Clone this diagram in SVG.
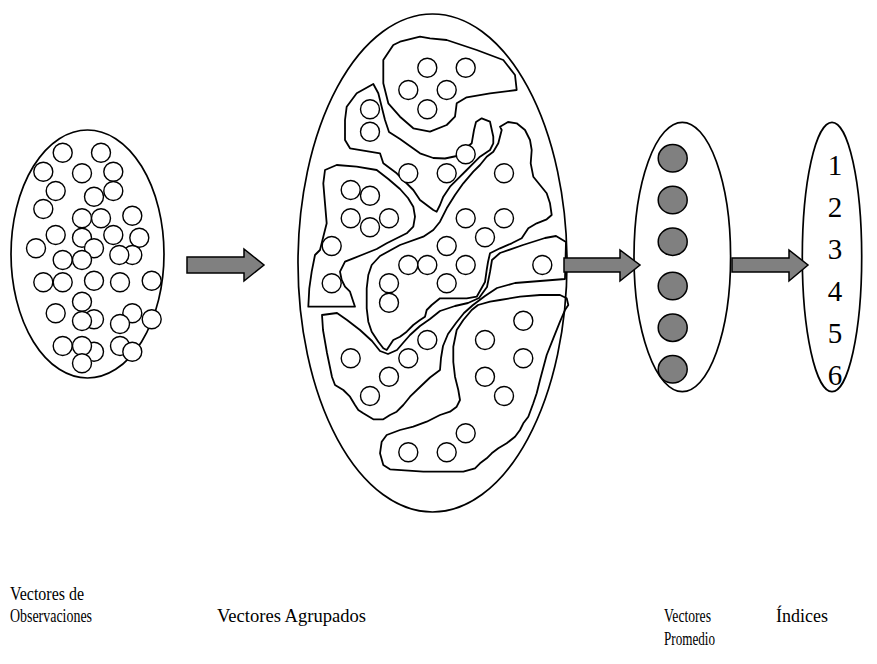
<svg xmlns="http://www.w3.org/2000/svg" width="877" height="664" viewBox="0 0 877 664">
<style>
.bg{fill:#fff}
.e{fill:#fff;stroke:#000;stroke-width:1.7}
.c{fill:#fff;stroke:#000;stroke-width:1.4}
.b{fill:none;stroke:#000;stroke-width:1.8;stroke-linejoin:round}
.g{fill:#808080;stroke:#000;stroke-width:1.5}
.ar{fill:#808080;stroke:#000;stroke-width:1.5;stroke-linejoin:miter}
.t{font-family:"Liberation Serif","Times New Roman",serif;font-size:19px;fill:#000}
.n{font-family:"Liberation Serif","Times New Roman",serif;font-size:29px;fill:#000;text-anchor:middle}
</style>
<rect class="bg" x="0" y="0" width="877" height="664"/>
<g id="observaciones">
<ellipse class="e" cx="87.5" cy="254" rx="76.5" ry="124"/>
<g>
<circle class="c" cx="62.7" cy="152.7" r="9.5"/><circle class="c" cx="101" cy="152.7" r="9.5"/>
<circle class="c" cx="43.3" cy="171.7" r="9.5"/><circle class="c" cx="82" cy="173.3" r="9.5"/>
<circle class="c" cx="113.3" cy="171.7" r="9.5"/><circle class="c" cx="55.7" cy="191" r="9.5"/>
<circle class="c" cx="94" cy="196.7" r="9.5"/><circle class="c" cx="113.3" cy="191" r="9.5"/>
<circle class="c" cx="43.3" cy="209" r="9.5"/><circle class="c" cx="82" cy="218.3" r="9.5"/>
<circle class="c" cx="101" cy="218.3" r="9.5"/><circle class="c" cx="132.3" cy="215.7" r="9.5"/>
<circle class="c" cx="55.7" cy="235" r="9.5"/><circle class="c" cx="82" cy="237.7" r="9.5"/>
<circle class="c" cx="113.3" cy="235" r="9.5"/><circle class="c" cx="139.3" cy="237.7" r="9.5"/>
<circle class="c" cx="36" cy="248.3" r="9.5"/><circle class="c" cx="94" cy="248.3" r="9.5"/>
<circle class="c" cx="62.7" cy="260" r="9.5"/><circle class="c" cx="82" cy="260" r="9.5"/>
<circle class="c" cx="132.3" cy="255" r="9.5"/><circle class="c" cx="119.3" cy="255" r="9.5"/>
<circle class="c" cx="43.3" cy="282.3" r="9.5"/><circle class="c" cx="62.7" cy="282.3" r="9.5"/>
<circle class="c" cx="94" cy="280.7" r="9.5"/><circle class="c" cx="120" cy="282.3" r="9.5"/>
<circle class="c" cx="151.7" cy="280.7" r="9.5"/><circle class="c" cx="82" cy="301.7" r="9.5"/>
<circle class="c" cx="55.7" cy="313.3" r="9.5"/><circle class="c" cx="94" cy="319.3" r="9.5"/>
<circle class="c" cx="82" cy="321" r="9.5"/><circle class="c" cx="132.3" cy="313.3" r="9.5"/>
<circle class="c" cx="120" cy="324" r="9.5"/><circle class="c" cx="151.7" cy="319.3" r="9.5"/>
<circle class="c" cx="94" cy="351.7" r="9.5"/><circle class="c" cx="62.7" cy="346" r="9.5"/>
<circle class="c" cx="82" cy="346" r="9.5"/><circle class="c" cx="120" cy="346" r="9.5"/>
<circle class="c" cx="132.3" cy="351.7" r="9.5"/><circle class="c" cx="82" cy="363.3" r="9.5"/>
</g>
<text class="t" x="10" y="600" textLength="74" lengthAdjust="spacingAndGlyphs">Vectores de</text>
<text class="t" x="10" y="622" textLength="82" lengthAdjust="spacingAndGlyphs">Observaciones</text>
</g>
<g id="agrupados">
<ellipse class="e" cx="432.5" cy="263" rx="134.5" ry="249"/>
<polygon class="b" points="393.3,45 400,41.7 420,36.7 430,38.3 446.7,40 476.7,50 503.3,60 515,75 516.7,90 490,93.3 466.7,97.3 456.7,103.3 455,116.7 446.7,125 430,131.7 413.3,128.3 400,116.7 388.3,103.3 383.3,83.3 383.3,60"/>
<polygon class="b" points="345,120 346.7,106.7 356.7,93.3 373.3,84 378.3,93.3 385,120 389,132 400,139 420,153.3 433.3,158 445,158.5 456.7,156 471.7,143.3 474,130 476,122 481.7,118.3 490,121.7 493.3,136.7 493.3,143.3 490,150 480,156.7 473.3,163.3 466.7,170 458.3,178.3 450,186.7 443.3,196.7 440,205 436.7,211.7 433.3,210 420,200 413.3,190 396.7,173.3 383.3,163.3 380,153.3 350,148.3 345,140"/>
<polygon class="b" points="325,170 336.7,165 356.7,166.7 376.7,170 388.3,179 400,189 408,198 413.3,206.7 415,216.7 413.3,226.7 406.7,233.3 396.7,238.3 386.7,243.3 376.7,249 361.7,255 353.3,258.3 345,261.7 340,271.7 341.7,280 345,286.7 350,291.7 353.3,301.7 355,306.7 308.3,306.7 309.3,288.3 311.7,271.7 315,255 320,250 323.3,236.7 326.7,223.3 325,203.3 323.3,183.3"/>
<polygon class="b" points="500,126.7 508,122 516.7,123.3 525,130 530,140 531.7,150 530.7,163.3 533.3,176.7 540,185 546.7,193.3 550,203.3 551.7,215 546.7,219.3 536.7,223.3 528.3,228.3 521.7,238.3 511.7,243.3 500,248.3 490,253.3 488,262 486.7,270 485,282 476.7,296.7 466.7,298.3 453.3,298.3 440,298.3 431.7,305 426.7,310 425,316.7 420,320 413.3,325 406.7,331.7 400,336.7 393.3,340 390,345 386.7,350 383.3,348.3 378.3,341.7 371.7,331.7 368.3,321.7 366.7,308.3 366.7,288.3 368.3,275 371.7,265 380,256 400,245 423.3,236.7 433.3,230 440,221.7 446.7,208.3 455,195 463.3,183.3 473.3,171.7 480,165 486.7,156.7 493.3,151.7 498.3,143.3 501.7,130"/>
<polygon class="b" points="322,315 337,313 347,320 360,330 372,341 380,351 388,354 397,350 403,343 410,335 420,326 430,319 440,311 455,306 468,303 479,298 487,287 490,272 492,260 500,253 523,245 545,238 556,236 566,242 565,279 540,281 515,283 497,288 485,296 473,305 464,313 456,323 448,334 443,346 441,358 440,370 430,377.5 420,387 410,396.7 403.3,405 396.7,411.7 390,415 383.3,419.3 373.3,419.3 363.3,413.3 358.3,410 355,405 350,396.7 343.3,390 335,385 332,377 327,353 323,330"/>
<polygon class="b" points="471.7,310 478,305 490,301.7 500,300 520,296.7 540,295 560,295 566.7,298.3 568.3,305 565,310 560,321.7 553.3,338.3 546.7,355 540,380 536.7,393.3 533.3,403.3 528.3,416.7 523.3,423.3 520,430 515,436.7 506.7,443.3 498.3,448.3 491.7,453.3 486.7,458.3 480,463.3 475,468.3 463.3,471.7 440,471.7 423.3,471.7 390,469.3 383.3,465 380,453.3 381.7,441.7 386.7,435 400,430 413.3,426.7 426.7,421.7 440,415 450,411.7 456.7,406.7 460,400 458.3,390 455,376.7 453.3,362 453.3,346.7 456.7,330 463.3,320"/>
<g>
<circle class="c" cx="427.3" cy="67.7" r="9.5"/><circle class="c" cx="465.7" cy="67.7" r="9.5"/>
<circle class="c" cx="408.3" cy="90" r="9.5"/><circle class="c" cx="446.7" cy="90" r="9.5"/>
<circle class="c" cx="427.3" cy="109.3" r="9.5"/>
<circle class="c" cx="370" cy="109.3" r="9.5"/><circle class="c" cx="370" cy="131.7" r="9.5"/>
<circle class="c" cx="408.3" cy="173.3" r="9.5"/><circle class="c" cx="446.7" cy="173.3" r="9.5"/>
<circle class="c" cx="465.7" cy="154.3" r="9.5"/>
<circle class="c" cx="504" cy="173.3" r="9.5"/><circle class="c" cx="465.7" cy="218.3" r="9.5"/>
<circle class="c" cx="504" cy="218.3" r="9.5"/><circle class="c" cx="485" cy="237.3" r="9.5"/>
<circle class="c" cx="446.7" cy="246" r="9.5"/><circle class="c" cx="408.3" cy="265" r="9.5"/>
<circle class="c" cx="427.3" cy="265" r="9.5"/><circle class="c" cx="465.7" cy="265" r="9.5"/>
<circle class="c" cx="389" cy="283.3" r="9.5"/><circle class="c" cx="446.7" cy="283.3" r="9.5"/>
<circle class="c" cx="389" cy="302.7" r="9.5"/>
<circle class="c" cx="350.7" cy="190" r="9.5"/><circle class="c" cx="370" cy="195.7" r="9.5"/>
<circle class="c" cx="350.7" cy="218.3" r="9.5"/><circle class="c" cx="370" cy="227.3" r="9.5"/>
<circle class="c" cx="389" cy="218.3" r="9.5"/><circle class="c" cx="331.7" cy="246" r="9.5"/>
<circle class="c" cx="331.7" cy="283.3" r="9.5"/>
<circle class="c" cx="542.3" cy="265" r="9.5"/><circle class="c" cx="427.3" cy="340" r="9.5"/>
<circle class="c" cx="350.7" cy="358.3" r="9.5"/><circle class="c" cx="408.3" cy="358.3" r="9.5"/>
<circle class="c" cx="389" cy="376.7" r="9.5"/><circle class="c" cx="370" cy="396" r="9.5"/>
<circle class="c" cx="523.3" cy="320.7" r="9.5"/><circle class="c" cx="485" cy="340" r="9.5"/>
<circle class="c" cx="523.3" cy="358.3" r="9.5"/><circle class="c" cx="485" cy="376.7" r="9.5"/>
<circle class="c" cx="504" cy="396" r="9.5"/><circle class="c" cx="465.7" cy="433.3" r="9.5"/>
<circle class="c" cx="408.3" cy="452.3" r="9.5"/><circle class="c" cx="446.7" cy="452.3" r="9.5"/>
</g>
<text class="t" x="217" y="622" textLength="149" lengthAdjust="spacingAndGlyphs">Vectores Agrupados</text>
</g>
<g id="promedio">
<ellipse class="e" cx="682.3" cy="257" rx="48.3" ry="134.7"/>
<ellipse class="g" cx="672.7" cy="158.3" rx="14.5" ry="13.7"/>
<ellipse class="g" cx="672.7" cy="200" rx="14.5" ry="13.7"/>
<ellipse class="g" cx="672.7" cy="241.7" rx="14.5" ry="13.7"/>
<ellipse class="g" cx="672.7" cy="286" rx="14.5" ry="13.7"/>
<ellipse class="g" cx="672.7" cy="327.7" rx="14.5" ry="13.7"/>
<ellipse class="g" cx="672.7" cy="369.3" rx="14.5" ry="13.7"/>
<text class="t" x="664" y="622" textLength="47" lengthAdjust="spacingAndGlyphs">Vectores</text>
<text class="t" x="664" y="645" textLength="51" lengthAdjust="spacingAndGlyphs">Promedio</text>
</g>
<g id="indices">
<ellipse class="e" cx="832" cy="257" rx="29.7" ry="134.7"/>
<text class="n" x="835" y="175">1</text>
<text class="n" x="835" y="217">2</text>
<text class="n" x="835" y="259">3</text>
<text class="n" x="835" y="301">4</text>
<text class="n" x="835" y="343">5</text>
<text class="n" x="835" y="385">6</text>
<text class="t" x="776" y="622" textLength="52" lengthAdjust="spacingAndGlyphs">Índices</text>
</g>
<g id="connectors">
<polygon class="ar" points="187,257 244,257 244,249 264,265 244,281 244,273 187,273"/>
<polygon class="ar" points="564,258 620,258 620,250 640,265 620,281 620,272 564,272"/>
<polygon class="ar" points="732,258 789,258 789,250 808,265 789,281 789,272 732,272"/>
</g>
</svg>
